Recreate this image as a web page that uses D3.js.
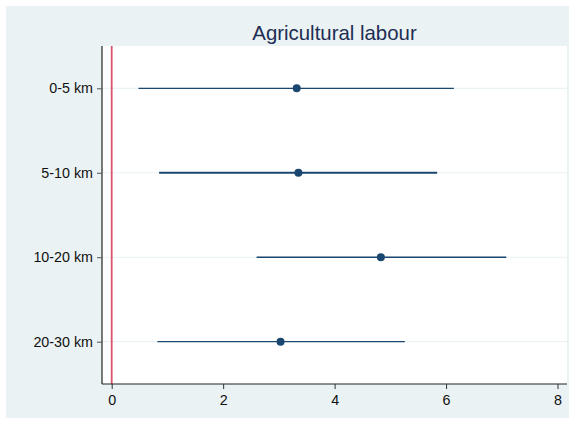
<!DOCTYPE html>
<html>
<head>
<meta charset="utf-8">
<script src="https://cdn.jsdelivr.net/npm/d3@7"></script>
<style>
  html, body { margin: 0; padding: 0; background: #ffffff; }
  svg { display: block; font-family: "Liberation Sans", Arial, sans-serif; }
</style>
</head>
<body>
<svg id="chart" width="575" height="424"></svg>
<script>
// Coefficient estimates with confidence intervals, by distance band
const categories = ["0-5 km", "5-10 km", "10-20 km", "20-30 km"];
const estimates  = [3.32, 3.35, 4.83, 3.03];
const lowerCI    = [0.48, 0.85, 2.60, 0.82];
const upperCI    = [6.14, 5.84, 7.08, 5.26];
const xTicks     = [0, 2, 4, 6, 8];
const title      = "Agricultural labour";

const svg = d3.select("#chart");
const W = 575, H = 424;

// outer graph region
svg.append("rect")
  .attr("x", 6).attr("y", 6)
  .attr("width", W - 12).attr("height", H - 12)
  .attr("fill", "#eaf2f3");

const plot = { left: 102, right: 567, top: 46, bottom: 384 };

svg.append("rect")
  .attr("x", plot.left).attr("y", plot.top)
  .attr("width", plot.right - plot.left).attr("height", plot.bottom - plot.top)
  .attr("fill", "#ffffff");

const x = d3.scaleLinear().domain([-0.174, 8.17]).range([plot.left, plot.right]);
const y = d3.scalePoint().domain(categories).range([88.3, 341.7]);

// horizontal grid lines
svg.append("g").selectAll("line")
  .data(categories).join("line")
  .attr("x1", plot.left).attr("x2", plot.right)
  .attr("y1", d => y(d)).attr("y2", d => y(d))
  .attr("stroke", "#eaf2f3").attr("stroke-width", 1.2);

// reference line at zero
svg.append("line")
  .attr("x1", x(0)).attr("x2", x(0))
  .attr("y1", plot.top).attr("y2", plot.bottom)
  .attr("stroke", "#d9536f").attr("stroke-width", 1.8);

// y axis
const yAxis = svg.append("g")
  .attr("transform", `translate(${plot.left},0)`)
  .call(d3.axisLeft(y).tickSize(5).tickPadding(4));
yAxis.attr("font-size", null).attr("font-family", null);
yAxis.select(".domain").attr("d", `M0,${plot.top}V${plot.bottom}`)
  .attr("stroke", "#222").attr("stroke-width", 1.2);
yAxis.selectAll(".tick line").attr("stroke", "#555");
yAxis.selectAll(".tick text")
  .style("font-size", "14.3px").attr("fill", "#111")
  .style("font-family", "'Liberation Sans', Arial, sans-serif");

// x axis
const xAxis = svg.append("g")
  .attr("transform", `translate(0,${plot.bottom})`)
  .call(d3.axisBottom(x).tickValues(xTicks).tickFormat(d3.format("d")).tickSize(5).tickPadding(6));
xAxis.attr("font-size", null).attr("font-family", null);
xAxis.select(".domain").attr("d", `M${plot.left},0H${plot.right}`)
  .attr("stroke", "#222").attr("stroke-width", 1.2);
xAxis.selectAll(".tick line").attr("stroke", "#333");
xAxis.selectAll(".tick text")
  .style("font-size", "14.3px").attr("fill", "#111")
  .style("font-family", "'Liberation Sans', Arial, sans-serif");

// confidence intervals
const rows = categories.map((c, i) => ({ c, est: estimates[i], lo: lowerCI[i], hi: upperCI[i] }));
svg.append("g").selectAll("line")
  .data(rows).join("line")
  .attr("x1", d => x(d.lo)).attr("x2", d => x(d.hi))
  .attr("y1", d => y(d.c)).attr("y2", d => y(d.c))
  .attr("stroke", "#1a476f").attr("stroke-width", (d, i) => i === 1 ? 1.8 : 1.3);

// point estimates
svg.append("g").selectAll("circle")
  .data(rows).join("circle")
  .attr("cx", d => x(d.est)).attr("cy", d => y(d.c))
  .attr("r", 4)
  .attr("fill", "#1a476f");

// title
svg.append("text")
  .attr("x", (plot.left + plot.right) / 2).attr("y", 40)
  .attr("text-anchor", "middle")
  .style("font-size", "20.4px")
  .attr("fill", "#1e2d53")
  .text(title);
</script>
</body>
</html>
